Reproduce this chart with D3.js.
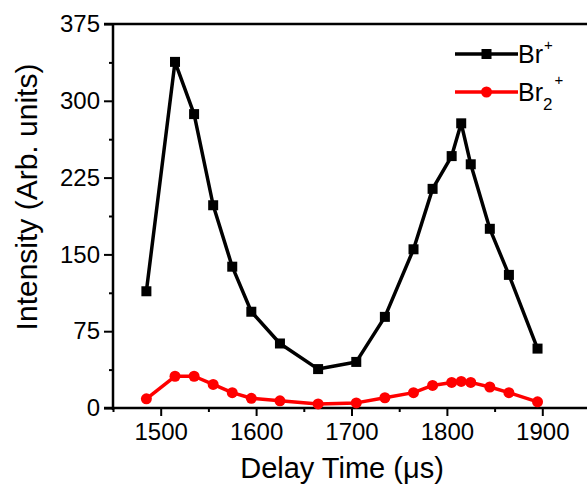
<!DOCTYPE html>
<html>
<head>
<meta charset="utf-8">
<script src="https://cdn.jsdelivr.net/npm/d3@7"></script>
<style>
  body { margin: 0; background: #fff; }
  svg { display: block; font-family: "Liberation Sans", Arial, sans-serif; }
</style>
</head>
<body>
<svg id="chart" width="587" height="484"></svg>
<script>
// delay times (us)
var delays = [1485, 1515, 1535, 1555, 1575, 1595, 1625, 1665, 1705, 1735, 1765, 1785, 1805, 1815, 1825, 1845, 1865, 1895];
// Br+ intensity
var brValues = [114, 338, 287, 198, 138, 94, 63, 38, 45, 89, 155, 214, 246, 278, 238, 175, 130, 58];
// Br2+ intensity
var br2Values = [9, 31, 31, 23, 15, 9.5, 7, 4, 5, 10, 15, 22, 25, 26, 25, 20.5, 15, 6];
var xTicks = [1500, 1600, 1700, 1800, 1900];
var yTicks = [0, 75, 150, 225, 300, 375];

var svg = d3.select('#chart');

var plotLeft = 113, plotTop = 24, plotRight = 590, plotBottom = 408;

var x = d3.scaleLinear().domain([1450, 1950]).range([plotLeft, plotRight]);
var y = d3.scaleLinear().domain([0, 375]).range([plotBottom, plotTop]);

function makeSeries (values) {
	return delays.map(function (d, i) { return { t: d, v: values[i] }; });
};

var series = [
	{ name: 'br', data: makeSeries(brValues), color: '#000', shape: 'square' },
	{ name: 'br2', data: makeSeries(br2Values), color: '#ff0000', shape: 'circle' }
];

// frame lines
svg.append('line')
	.attr('x1', plotLeft - 9).attr('x2', plotRight)
	.attr('y1', plotTop).attr('y2', plotTop)
	.attr('stroke', '#000').attr('stroke-width', 2.5);
svg.append('line')
	.attr('x1', plotRight).attr('x2', plotRight)
	.attr('y1', plotTop).attr('y2', plotBottom)
	.attr('stroke', '#000').attr('stroke-width', 2.5);

// x axis
var xAxis = d3.axisBottom(x)
	.tickValues(d3.range(1450, 1951, 50))
	.tickSize(8)
	.tickFormat(function (d) { return xTicks.indexOf(d) >= 0 ? d : ''; });

var gx = svg.append('g')
	.attr('transform', 'translate(0,' + plotBottom + ')')
	.call(xAxis);

gx.select('.domain').attr('stroke-width', 2.5).attr('d', 'M' + (plotLeft - 9) + ',0H' + plotRight);
gx.selectAll('.tick line')
	.attr('stroke-width', 2)
	.attr('y2', function (d) { return xTicks.indexOf(d) >= 0 ? 8 : 4; });
gx.selectAll('.tick text')
	.attr('y', 15)
	.attr('font-size', 24)
	.attr('fill', '#000');

// y axis
var yAxis = d3.axisLeft(y)
	.tickValues(d3.range(0, 376, 37.5))
	.tickSize(8)
	.tickFormat(function (d) { return yTicks.indexOf(d) >= 0 ? d : ''; });

var gy = svg.append('g')
	.attr('transform', 'translate(' + plotLeft + ',0)')
	.call(yAxis);

gy.select('.domain').attr('stroke-width', 2.5).attr('d', 'M0,' + plotTop + 'V' + (plotBottom + 2));
gy.selectAll('.tick line')
	.attr('stroke-width', 2)
	.attr('x2', function (d) { return yTicks.indexOf(d) >= 0 ? -9 : -4; });
gy.selectAll('.tick text')
	.attr('x', -13)
	.attr('font-size', 24)
	.attr('fill', '#000');

gx.attr('font-family', null);
gy.attr('font-family', null);

// axis titles
svg.append('text')
	.attr('x', 342).attr('y', 478)
	.attr('text-anchor', 'middle')
	.attr('font-size', 29)
	.text('Delay Time (\u03bcs)');

svg.append('text')
	.attr('transform', 'translate(37,197) rotate(-90)')
	.attr('text-anchor', 'middle')
	.attr('font-size', 30)
	.text('Intensity (Arb. units)');

// lines and markers
var line = d3.line()
	.x(function (d) { return x(d.t); })
	.y(function (d) { return y(d.v); });

function drawMarker (sel, shape, color) {
	if (shape === 'square') {
		sel.append('rect')
			.attr('x', function (d) { return d.px - 5; })
			.attr('y', function (d) { return d.py - 5; })
			.attr('width', 10).attr('height', 10)
			.attr('fill', color);
	} else {
		sel.append('circle')
			.attr('cx', function (d) { return d.px; })
			.attr('cy', function (d) { return d.py; })
			.attr('r', 5.5)
			.attr('fill', color);
	}
};

series.forEach(function (s) {
	svg.append('path')
		.datum(s.data)
		.attr('d', line)
		.attr('fill', 'none')
		.attr('stroke', s.color)
		.attr('stroke-width', 3.5)
		.attr('stroke-linejoin', 'round');

	var pts = s.data.map(function (d) { return { px: x(d.t), py: y(d.v) }; });
	var g = svg.append('g').selectAll('g').data(pts).join('g');
	drawMarker(g, s.shape, s.color);
});

// legend
var legendRows = [
	{ shape: 'square', color: '#000', y: 54, sub: null },
	{ shape: 'circle', color: '#ff0000', y: 92, sub: '2' }
];

legendRows.forEach(function (r) {
	svg.append('line')
		.attr('x1', 455).attr('x2', 518)
		.attr('y1', r.y).attr('y2', r.y)
		.attr('stroke', r.color).attr('stroke-width', 3.5);

	var mg = svg.append('g').selectAll('g').data([{ px: 486.5, py: r.y }]).join('g');
	drawMarker(mg, r.shape, r.color);

	var t = svg.append('text')
		.attr('x', 518).attr('y', r.y + 9)
		.attr('font-size', 25);
	t.append('tspan').text('Br');
	if (r.sub) {
		t.append('tspan').attr('font-size', 17).attr('dy', 9).text(r.sub);
		t.append('tspan').attr('font-size', 15).attr('dy', -25).attr('dx', 2).text('+');
	} else {
		t.append('tspan').attr('font-size', 15).attr('dy', -13).attr('dx', 1).text('+');
	}
});
</script>
</body>
</html>
